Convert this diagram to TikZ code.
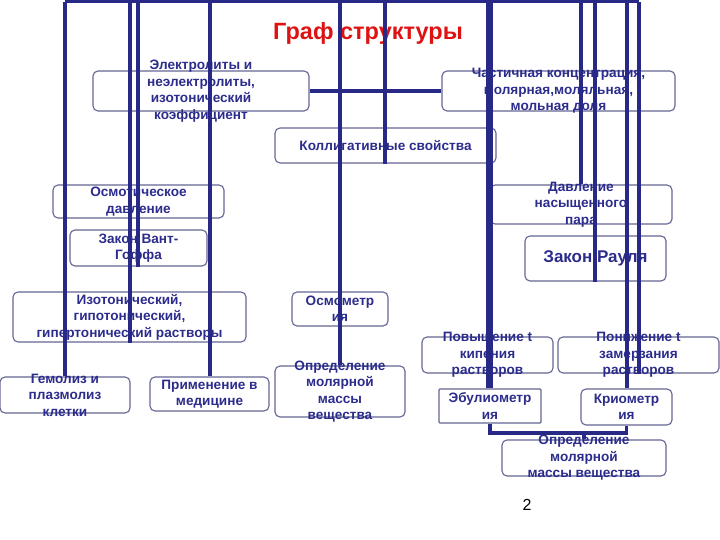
\documentclass[tikz,border=0pt]{standalone}
\usepackage{fontspec}
\setmainfont{Liberation Sans}
\usepackage{tikz}
\usetikzlibrary{calc}

\definecolor{navy}{RGB}{44,44,140}
\definecolor{lin}{RGB}{40,40,135}
\definecolor{rim}{RGB}{100,100,148}
\definecolor{ttlred}{RGB}{222,18,18}

\tikzset{
 box/.style={draw=rim,line width=1.1pt,rounded corners=5pt,inner sep=0pt},
 txt/.style={text=navy,font=\bfseries\fontsize{13.6}{16.5}\selectfont,align=center,inner sep=0pt},
 conn/.style={draw=lin,line width=3.2pt}
}

\begin{document}
\begin{tikzpicture}[x=1pt,y=-1pt]
\useasboundingbox (0,0) rectangle (720,540);
\node[text=ttlred,font=\bfseries\fontsize{23.5}{27}\selectfont] (title) at (368,33) {Граф структуры};
\node[font=\fontsize{16}{19}\selectfont] (pnum) at (527,505) {2};
%boxes
\node[box,minimum width=216pt,minimum height=40pt,label={[txt]center:{Электролиты и\\неэлектролиты,\\изотонический\\коэффициент}}] (elec) at (201,91) {};
\node[box,minimum width=233pt,minimum height=40pt,label={[txt]center:{Частичная концентрация,\\молярная,моляльная,\\мольная доля}}] (chast) at (558.5,91) {};
\node[box,minimum width=221pt,minimum height=35pt,label={[txt]center:{Коллигативные свойства}}] (koll) at (385.5,145.5) {};
\node[box,minimum width=171pt,minimum height=33pt,label={[txt]center:{Осмотическое\\давление}}] (osmdav) at (138.5,201.5) {};
\node[box,minimum width=182pt,minimum height=39pt,label={[txt]center:{Давление\\насыщенного\\пара}}] (davl) at (581,204.5) {};
\node[box,minimum width=137pt,minimum height=36pt,label={[txt]center:{Закон Вант-\\Гоффа}}] (vant) at (138.5,248) {};
\node[box,minimum width=141pt,minimum height=45pt,label={[txt,font=\bfseries\fontsize{17}{20}\selectfont]center:{Закон Рауля}}] (raul) at (595.5,258.5) {};
\node[box,minimum width=233pt,minimum height=50pt,label={[txt]center:{Изотонический,\\гипотонический,\\гипертонический растворы}}] (izot) at (129.5,317) {};
\node[box,minimum width=96pt,minimum height=34pt,label={[txt]center:{Осмометр\\ия}}] (osmom) at (340,309) {};
\node[box,minimum width=131pt,minimum height=36pt,label={[txt]center:{Повышение t\\кипения\\растворов}}] (povysh) at (487.5,355) {};
\node[box,minimum width=161pt,minimum height=36pt,label={[txt]center:{Понижение t\\замерзания\\растворов}}] (ponizh) at (638.5,355) {};
\node[box,minimum width=130pt,minimum height=36pt,label={[txt]center:{Гемолиз и\\плазмолиз\\клетки}}] (gemol) at (65,395) {};
\node[box,minimum width=119pt,minimum height=34pt,label={[txt]center:{Применение в\\медицине}}] (primen) at (209.5,394) {};
\node[box,minimum width=130pt,minimum height=51pt,label={[txt]center:{Определение\\молярной\\массы\\вещества}}] (opredl) at (340,391.5) {};
\node[box,rounded corners=1pt,minimum width=102pt,minimum height=34pt,label={[txt]center:{Эбулиометр\\ия}}] (ebul) at (490,406) {};
\node[box,minimum width=91pt,minimum height=36pt,label={[txt]center:{Криометр\\ия}}] (krio) at (626.5,407) {};
\node[box,minimum width=164pt,minimum height=36pt,label={[txt]center:{Определение\\молярной\\массы вещества}}] (opredr) at (584,458) {};
%lines from the top bar
\foreach \x in {65,130,138,210,340,385,488,491,581,595,627,639} {\coordinate (t\x) at (\x,1.6);}
\draw[conn] (t65) -- (t639);
\foreach \x/\n in {65/gemol.north,130/izot.south,138/vant.south,210/primen.north,340/opredl.north,385/koll.south,488/ebul.north,491/ebul.north,581/davl.north,595/raul.south,627/krio.north,639/ponizh.south}
 {\draw[conn] (t\x) -- (t\x |- \n);}
\draw[conn] (elec.east) -- (chast.west);
\coordinate (jn) at (584,433);
\draw[conn] (ebul.south) |- (jn) -| (krio.south);
\draw[conn] (jn) -- (opredr.north);
\end{tikzpicture}
\end{document}
